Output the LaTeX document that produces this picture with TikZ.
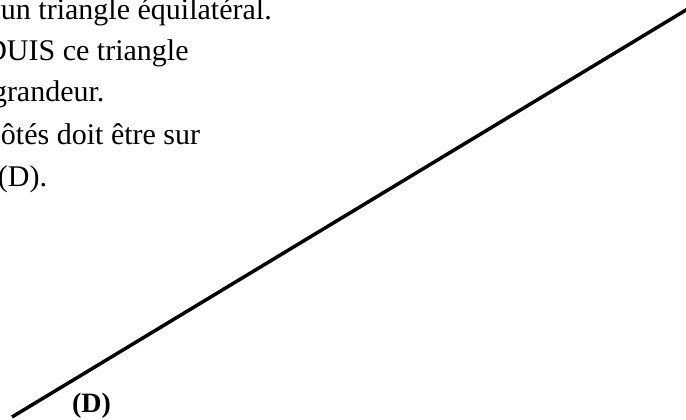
\documentclass[tikz,border=0pt]{standalone}
\usepackage{fontspec}
\setmainfont{Liberation Serif}
\begin{document}
\begin{tikzpicture}[x=1pt,y=-1pt,
  txt/.style={anchor=base west,inner sep=0pt,outer sep=0pt,font=\fontsize{30}{36}\selectfont},
  lbl/.style={anchor=base west,inner sep=0pt,outer sep=0pt,font=\fontsize{28}{33}\selectfont\bfseries},
  droite/.style={line width=3.5pt}]
\useasboundingbox (0,0) rectangle (686,420);
\clip (0,0) rectangle (686,420);
\fill[white] (0,0) rectangle (686,420);
\node[txt] (l1) at (1,19.5) {un triangle équilatéral.};
\node[txt] (l2) at (-14.7,60.5) {DUIS ce triangle};
\node[txt] (l3) at (-8,102) {grandeur.};
\node[txt] (l4) at (1,144) {ôtés doit être sur};
\node[txt] (l5) at (-2,186) {(D).};
\coordinate (a) at (12,417);
\coordinate (b) at (690,7.6);
\draw[droite] (a) -- (b);
\node[lbl] (d) at (72,412) {(D)};
\end{tikzpicture}
\end{document}
